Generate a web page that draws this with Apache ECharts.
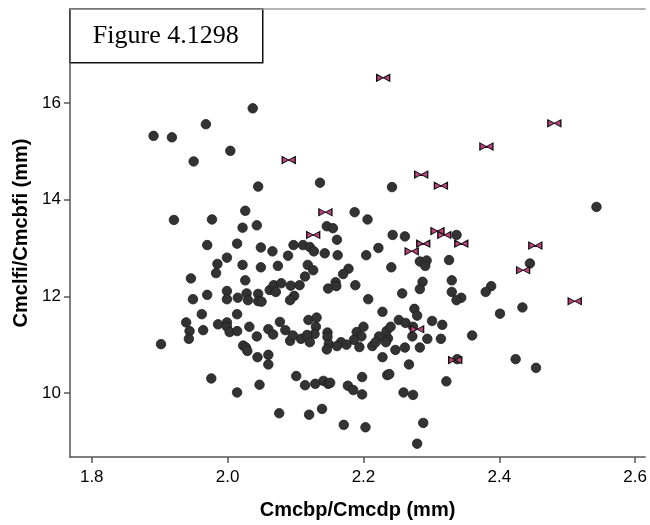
<!DOCTYPE html>
<html><head><meta charset="utf-8">
<script src="https://cdn.jsdelivr.net/npm/echarts@6/dist/echarts.min.js"></script>
<style>html,body{margin:0;padding:0;background:#fff}#c{width:650px;height:525px}</style>
</head><body><div id="c"></div><script>
// Category / tick labels
const xTicks = [1.8, 2.0, 2.2, 2.4, 2.6];
const yTicks = [10, 12, 14, 16];
const xTitle = 'Cmcbp/Cmcdp (mm)';
const yTitle = 'Cmclfi/Cmcbfi (mm)';
const figLabel = 'Figure 4.1298';

// Series 1: circles
const dotX = [1.891,1.918,1.968,2.037,2.004,1.950,2.136,2.045,2.026,2.187,1.921,1.977,2.022,2.043,2.146,2.155,2.161,2.242,2.543,2.206,2.243,2.261,2.337,2.222,2.204,2.283,2.293,2.291,2.326,2.445,2.241,2.178,2.170,2.188,2.287,2.283,2.330,2.330,2.344,2.337,2.388,2.380,2.257,2.207,2.434,2.401,2.228,2.275,2.279,2.252,2.262,2.301,2.316,2.273,2.200,2.190,2.197,2.186,2.167,2.175,2.194,2.223,2.236,2.234,2.213,2.218,2.233,2.240,2.272,2.294,2.314,2.360,2.247,2.261,2.283,2.228,2.267,2.338,2.424,2.454,2.235,2.238,2.198,2.322,2.177,2.185,2.198,2.259,2.273,2.171,2.203,2.288,2.279,
1.970,2.014,2.049,2.066,2.089,2.097,2.111,2.121,2.127,2.143,2.162,1.999,1.985,1.983,2.022,2.049,2.074,2.118,2.126,2.114,1.946,2.026,2.062,2.068,2.071,2.079,2.093,2.106,2.098,2.092,2.159,2.160,2.148,1.970,1.999,1.999,2.015,2.028,2.030,2.045,2.045,2.050,1.949,1.962,1.939,1.944,1.943,1.964,1.986,1.999,1.999,2.003,2.014,2.014,2.032,2.043,2.060,2.067,2.077,2.085,2.092,2.096,2.108,2.119,2.131,2.130,2.128,2.117,2.121,2.147,2.147,2.149,2.146,2.161,1.902,2.023,2.027,2.029,2.044,2.060,2.060,1.976,2.014,2.047,2.101,2.114,2.129,2.141,2.148,2.151,2.076,2.120,2.139];
const dotY = [15.32,15.29,15.56,15.89,15.01,14.79,14.35,14.27,13.77,13.74,13.58,13.59,13.42,13.47,13.45,13.41,13.17,14.26,13.85,13.59,13.27,13.24,13.27,13.00,12.85,12.72,12.74,12.63,12.75,12.68,12.60,12.57,12.46,12.23,12.30,12.15,12.33,12.09,11.97,11.92,12.21,12.09,12.06,11.94,11.77,11.64,11.68,11.74,11.60,11.51,11.45,11.49,11.41,11.37,11.37,11.26,11.17,11.10,11.05,11.00,10.95,11.17,11.13,11.28,10.97,11.05,11.05,11.37,11.17,11.12,11.12,11.19,10.89,10.94,10.94,10.74,10.59,10.70,10.70,10.52,10.37,10.39,10.33,10.24,10.15,10.06,9.97,10.01,9.96,9.34,9.29,9.38,8.95,
13.06,13.09,13.01,12.93,12.84,13.06,13.06,13.02,12.93,12.89,12.85,12.80,12.67,12.48,12.65,12.60,12.63,12.65,12.54,12.41,12.37,12.33,12.13,12.23,12.09,12.27,12.22,12.23,12.01,11.92,12.29,12.21,12.16,12.03,12.11,11.94,11.97,12.06,11.92,12.05,11.90,11.89,11.94,11.63,11.46,11.28,11.12,11.30,11.42,11.46,11.37,11.26,11.63,11.28,11.37,11.17,11.32,11.21,11.47,11.30,11.08,11.19,11.12,11.51,11.56,11.37,11.22,11.20,11.05,11.25,11.16,11.01,10.90,10.97,11.01,10.98,10.94,10.87,10.74,10.79,10.59,10.30,10.01,10.17,10.35,10.16,10.19,10.25,10.19,10.21,9.58,9.55,9.67];

// Series 2: bow-tie markers
const bowX = [2.090,2.144,2.126,2.229,2.481,2.381,2.285,2.314,2.309,2.319,2.288,2.344,2.453,2.271,2.435,2.511,2.279,2.335];
const bowY = [14.82,13.74,13.27,16.52,15.58,15.10,14.52,14.29,13.35,13.27,13.09,13.09,13.05,12.93,12.54,11.90,11.32,10.68];

const dots = dotX.map((x, i) => [x, dotY[i]]);
const bows = bowX.map((x, i) => [x, bowY[i]]);

const FONT = 'Liberation Sans, Arial, sans-serif';
const chart = echarts.init(document.getElementById('c'), null, {renderer: 'canvas'});
chart.setOption({
  animation: false,
  backgroundColor: '#ffffff',
  grid: {left: 70, right: 0, top: 9, bottom: 68},
  xAxis: [{
    type: 'value', min: 1.768, max: 2.6146,
    axisLine: {show: true, lineStyle: {color: '#555', width: 1.5}},
    axisTick: {show: true, length: 6, customValues: xTicks, lineStyle: {color: '#555', width: 1.5}},
    axisLabel: {customValues: xTicks, formatter: v => Number(v).toFixed(1), color: '#000', fontFamily: FONT, fontSize: 17, margin: 12},
    splitLine: {show: false},
    name: xTitle, nameLocation: 'middle', nameGap: 43,
    nameTextStyle: {fontFamily: FONT, fontWeight: 'bold', fontSize: 20, color: '#000'}
  }, {
    type: 'value', position: 'top', min: 1.768, max: 2.6146,
    axisLine: {show: true, onZero: false, lineStyle: {color: '#999', width: 1.5}},
    axisTick: {show: false}, axisLabel: {show: false}, splitLine: {show: false}
  }],
  yAxis: {
    type: 'value', min: 8.675, max: 17.945,
    axisLine: {show: true, lineStyle: {color: '#555', width: 1.5}},
    axisTick: {show: true, length: 6, customValues: yTicks, lineStyle: {color: '#555', width: 1.5}},
    axisLabel: {customValues: yTicks, formatter: v => String(Math.round(v)), color: '#000', fontFamily: FONT, fontSize: 17, margin: 9},
    splitLine: {show: false},
    name: yTitle, nameLocation: 'middle', nameGap: 36, nameRotate: 90,
    nameTextStyle: {fontFamily: FONT, fontWeight: 'bold', fontSize: 20, color: '#000'}
  },
  series: [{
    type: 'scatter', xAxisIndex: 0, data: dots, symbol: 'circle', symbolSize: 9.5,
    itemStyle: {color: '#333333', borderColor: '#1e1e1e', borderWidth: 0.8, opacity: 1}
  }, {
    type: 'scatter', xAxisIndex: 0, data: bows,
    symbol: 'path://M0,0 L12,4 L0,8 Z M24,0 L12,4 L24,8 Z', symbolSize: [13, 7],
    itemStyle: {color: '#c2407f', borderColor: '#111', borderWidth: 1, opacity: 1}
  }],
  graphic: [{
    type: 'group', left: 69, top: 8, z: 100,
    children: [{
      type: 'rect', shape: {x: 0, y: 0, width: 193, height: 54},
      style: {fill: '#fff', stroke: '#111', lineWidth: 1.5}
    }, {
      type: 'text', x: 96, y: 27,
      style: {text: figLabel, fontFamily: 'Liberation Serif, Times New Roman, serif', fontSize: 26, fill: '#000', align: 'center', verticalAlign: 'middle'}
    }]
  }]
});
</script></body></html>
